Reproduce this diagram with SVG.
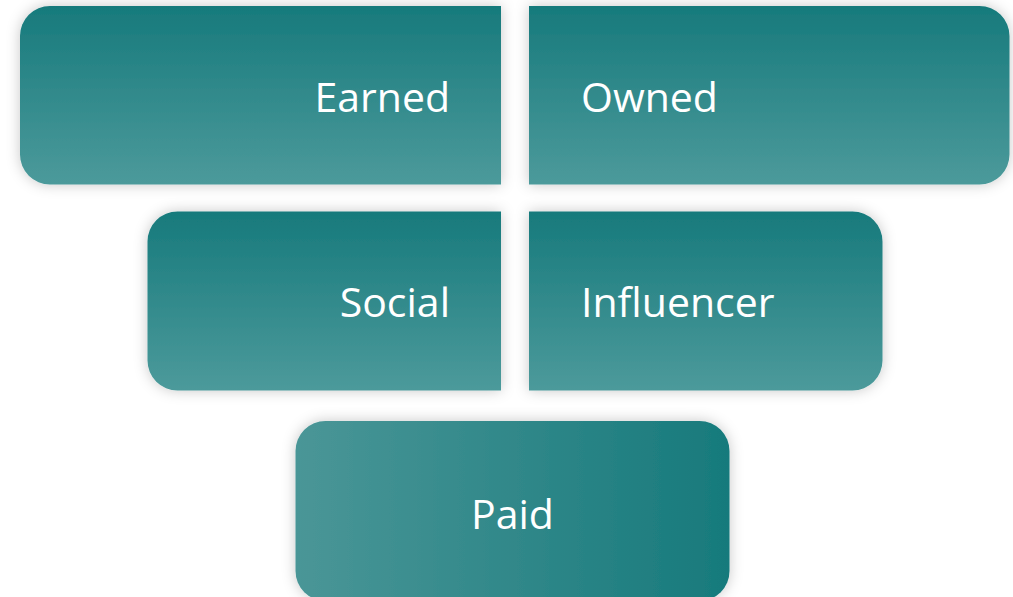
<svg xmlns="http://www.w3.org/2000/svg" width="1013" height="597" viewBox="0 0 1013 597">
  <defs>
    <linearGradient id="gv" x1="0" y1="0" x2="0" y2="1">
      <stop offset="0" stop-color="#177a7c"/>
      <stop offset="1" stop-color="#4c9a9b"/>
    </linearGradient>
    <linearGradient id="gh" x1="0" y1="0" x2="1" y2="0">
      <stop offset="0" stop-color="#4a9697"/>
      <stop offset="1" stop-color="#177a7c"/>
    </linearGradient>
    <filter id="sh" x="-10%" y="-15%" width="120%" height="130%">
      <feDropShadow dx="0" dy="0" stdDeviation="7" flood-color="#000" flood-opacity="0.22"/>
    </filter>
  </defs>
  <style>
    .box { fill: url(#gv); filter: url(#sh); }
    .boxh { fill: url(#gh); filter: url(#sh); }
    .lbl { font-family: "Open Sans", "Liberation Sans", sans-serif; font-size: 41px; fill: #ffffff; }
  </style>
  <rect width="1013" height="597" fill="#ffffff"/>
  <g id="connectors"/>
  <g id="earned">
    <path class="box" d="M50,6 H501 V184.5 H50 A30,30 0 0 1 20,154.5 V36 A30,30 0 0 1 50,6 Z"/>
    <text class="lbl" x="450" y="111.5" text-anchor="end">Earned</text>
  </g>
  <g id="owned">
    <path class="box" d="M529,6 H979.5 A30,30 0 0 1 1009.5,36 V154.5 A30,30 0 0 1 979.5,184.5 H529 Z"/>
    <text class="lbl" x="581" y="111.5">Owned</text>
  </g>
  <g id="social">
    <path class="box" d="M177.5,211.5 H501 V390.5 H177.5 A30,30 0 0 1 147.5,360.5 V241.5 A30,30 0 0 1 177.5,211.5 Z"/>
    <text class="lbl" x="450" y="317" text-anchor="end">Social</text>
  </g>
  <g id="influencer">
    <path class="box" d="M529,211.5 H852.5 A30,30 0 0 1 882.5,241.5 V360.5 A30,30 0 0 1 852.5,390.5 H529 Z"/>
    <text class="lbl" x="581" y="317">Influencer</text>
  </g>
  <g id="paid">
    <rect class="boxh" x="295.5" y="421" width="434" height="180" rx="30" ry="30"/>
    <text class="lbl" x="512.5" y="529" text-anchor="middle">Paid</text>
  </g>
</svg>
